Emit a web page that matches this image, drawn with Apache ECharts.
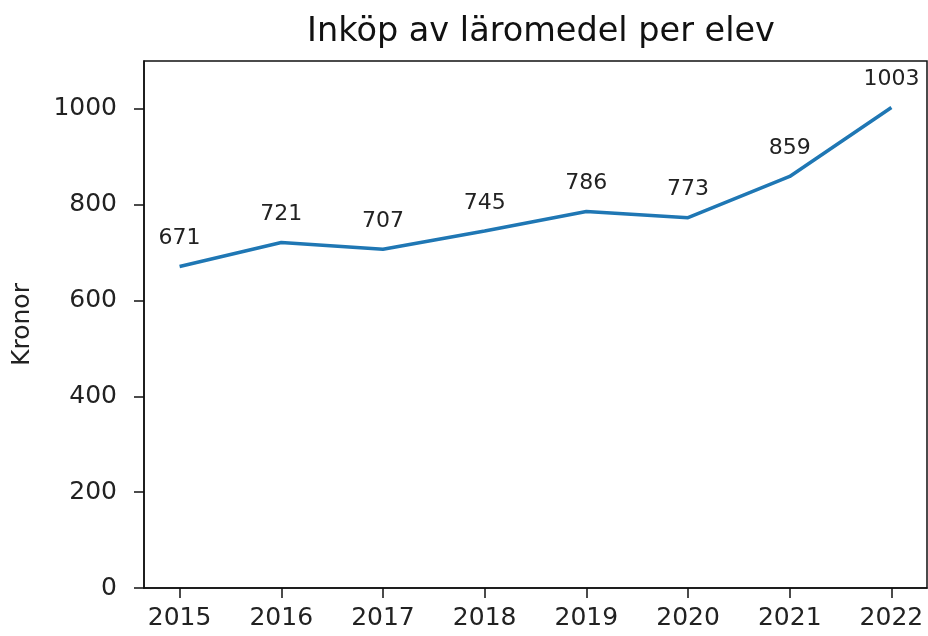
<!DOCTYPE html>
<html>
<head>
<meta charset="utf-8">
<script src="https://cdn.jsdelivr.net/npm/echarts@6/dist/echarts.min.js"></script>
<style>
  html, body { margin: 0; padding: 0; background: #fff; }
  #chart { width: 928px; height: 636px; }
</style>
</head>
<body>
<div id="chart"></div>
<script>
// data
const years = [2015, 2016, 2017, 2018, 2019, 2020, 2021, 2022];
const kronor = [671, 721, 707, 745, 786, 773, 859, 1003];
const yTicks = [0, 200, 400, 600, 800, 1000];

const font = 'DejaVu Sans';
const chart = echarts.init(document.getElementById('chart'));

chart.setOption({
  animation: false,
  title: {
    text: 'Inköp av läromedel per elev',
    left: 536,
    top: 10,
    textAlign: 'center',
    textStyle: { fontFamily: font, fontSize: 33.5, fontWeight: 'normal', color: '#111' }
  },
  grid: {
    left: 144, right: 1, top: 61, bottom: 48,
    show: true, borderColor: '#111', borderWidth: 1.5
  },
  xAxis: {
    type: 'value',
    min: 2014.65,
    max: 2022.35,
    splitLine: { show: false },
    axisLine: { lineStyle: { color: '#111', width: 1.5 } },
    axisTick: { customValues: years, length: 10, lineStyle: { color: '#111', width: 1.5 } },
    axisLabel: {
      customValues: years,
      formatter: v => String(v),
      margin: 18,
      fontFamily: font, fontSize: 25, color: '#222'
    }
  },
  yAxis: {
    type: 'value',
    min: 0,
    max: 1100,
    name: 'Kronor',
    nameLocation: 'middle',
    nameGap: 109,
    nameTextStyle: { fontFamily: font, fontSize: 25, color: '#222' },
    splitLine: { show: false },
    axisLine: { show: true, lineStyle: { color: '#111', width: 1.5 } },
    axisTick: { show: true, customValues: yTicks, length: 10, lineStyle: { color: '#111', width: 1.5 } },
    axisLabel: {
      customValues: yTicks,
      formatter: v => String(v),
      margin: 27,
      fontFamily: font, fontSize: 25, color: '#222'
    }
  },
  series: [{
    type: 'line',
    data: years.map((y, i) => [y, kronor[i]]),
    showSymbol: true,
    symbol: 'circle',
    symbolSize: 0,
    lineStyle: { color: '#1f77b4', width: 3.5 },
    itemStyle: { color: '#1f77b4' },
    label: {
      show: true,
      position: 'top',
      distance: 17,
      fontFamily: font, fontSize: 22, color: '#222'
    }
  }]
});
</script>
</body>
</html>
